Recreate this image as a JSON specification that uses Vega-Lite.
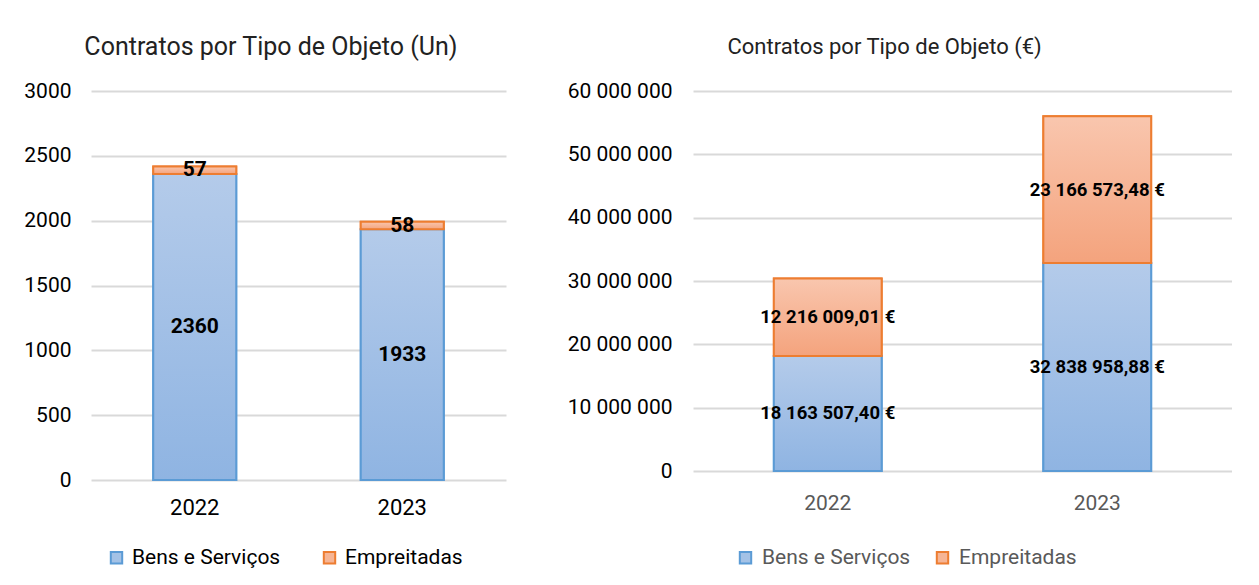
{
  "$schema": "https://vega.github.io/schema/vega-lite/v6.json",
  "padding": {"left": 23, "top": 35, "right": 0, "bottom": 0},
  "background": "white",
  "config": {
    "view": {"stroke": null},
    "font": "Roboto",
    "locale": {"number": {"decimal": ",", "thousands": " ", "grouping": [3], "currency": ["", " €"]}},
    "axis": {"gridColor": "#d9d9d9", "gridWidth": 2, "domain": false, "ticks": false, "labelFont": "Roboto"},
    "legend": {"labelFont": "Roboto"},
    "title": {"font": "Roboto", "fontWeight": "normal", "color": "#222222"}
  },
  "spacing": 61,
  "hconcat": [
    {
      "width": 415,
      "height": 389,
      "title": {"text": "Contratos por Tipo de Objeto (Un)", "frame": "bounds", "anchor": "middle", "dx": 6, "fontSize": 25, "offset": 20},
      "data": {"values": [
        {"year": "2022", "series": "Bens e Serviços", "order": 1, "value": 2360},
        {"year": "2022", "series": "Empreitadas", "order": 2, "value": 57},
        {"year": "2023", "series": "Bens e Serviços", "order": 1, "value": 1933},
        {"year": "2023", "series": "Empreitadas", "order": 2, "value": 58}
      ]},
      "transform": [
        {"stack": "value", "groupby": ["year"], "sort": [{"field": "order", "order": "ascending"}], "as": ["v0", "v1"]},
        {"calculate": "(datum.v0+datum.v1)/2", "as": "mid"}
      ],
      "encoding": {
        "x": {"field": "year", "type": "nominal", "scale": {"paddingInner": 0.6, "paddingOuter": 0.3},
              "axis": {"title": null, "labelAngle": 0, "labelFontSize": 22, "labelColor": "#000000", "labelPadding": 17, "grid": false}}
      },
      "layer": [
        {
          "mark": {"type": "bar", "strokeWidth": 2},
          "encoding": {
            "y": {"field": "v0", "type": "quantitative", "scale": {"domain": [0, 3000]},
                  "axis": {"title": null, "values": [0, 500, 1000, 1500, 2000, 2500, 3000], "format": "d", "labelFontSize": 21, "labelColor": "#000000", "labelPadding": 20, "minExtent": 64, "maxExtent": 64}},
            "y2": {"field": "v1"},
            "fill": {"field": "series", "type": "nominal", "scale": {"domain": ["Bens e Serviços", "Empreitadas"], "range": ["#a4c2e6", "#f6b595"]},
                     "legend": {"title": null, "orient": "none", "legendX": 15, "legendY": 456, "direction": "horizontal", "symbolType": "square", "symbolSize": 130, "symbolStrokeWidth": 2, "labelFontSize": 21, "labelColor": "#000000", "columnPadding": 38, "labelOffset": 5}},
            "stroke": {"field": "series", "type": "nominal", "scale": {"domain": ["Bens e Serviços", "Empreitadas"], "range": ["#5b9bd5", "#ed7d31"]},
                     "legend": {"title": null, "orient": "none", "legendX": 15, "legendY": 456, "direction": "horizontal", "symbolType": "square", "symbolSize": 130, "symbolStrokeWidth": 2, "labelFontSize": 21, "labelColor": "#000000", "columnPadding": 38, "labelOffset": 5}}
          }
        },
        {
          "transform": [{"filter": "datum.series === 'Bens e Serviços'"}],
          "mark": {"type": "bar", "stroke": "#5b9bd5", "strokeWidth": 2,
                   "fill": {"gradient": "linear", "x1": 0, "y1": 0, "x2": 0, "y2": 1, "stops": [{"offset": 0, "color": "#b4cbea"}, {"offset": 1, "color": "#8fb4e2"}]}},
          "encoding": {"y": {"field": "v0", "type": "quantitative"}, "y2": {"field": "v1"}}
        },
        {
          "transform": [{"filter": "datum.series === 'Empreitadas'"}],
          "mark": {"type": "bar", "stroke": "#ed7d31", "strokeWidth": 2,
                   "fill": {"gradient": "linear", "x1": 0, "y1": 0, "x2": 0, "y2": 1, "stops": [{"offset": 0, "color": "#f9c6ae"}, {"offset": 1, "color": "#f4a37d"}]}},
          "encoding": {"y": {"field": "v0", "type": "quantitative"}, "y2": {"field": "v1"}}
        },
        {
          "mark": {"type": "text", "fontWeight": "bold", "fontSize": 21, "color": "#000000", "font": "Roboto"},
          "encoding": {"y": {"field": "mid", "type": "quantitative"}, "text": {"field": "value", "type": "quantitative", "format": "d"}}
        }
      ]
    },
    {
      "width": 539,
      "height": 380,
      "title": {"text": "Contratos por Tipo de Objeto (€)", "frame": "bounds", "anchor": "middle", "dx": -15, "fontSize": 22, "offset": 21},
      "data": {"values": [
        {"year": "2022", "series": "Bens e Serviços", "order": 1, "value": 18163507.40},
        {"year": "2022", "series": "Empreitadas", "order": 2, "value": 12216009.01},
        {"year": "2023", "series": "Bens e Serviços", "order": 1, "value": 32838958.88},
        {"year": "2023", "series": "Empreitadas", "order": 2, "value": 23166573.48}
      ]},
      "transform": [
        {"stack": "value", "groupby": ["year"], "sort": [{"field": "order", "order": "ascending"}], "as": ["v0", "v1"]},
        {"calculate": "(datum.v0+datum.v1)/2", "as": "mid"}
      ],
      "encoding": {
        "x": {"field": "year", "type": "nominal", "scale": {"paddingInner": 0.6, "paddingOuter": 0.3},
              "axis": {"title": null, "labelAngle": 0, "labelFontSize": 21, "labelColor": "#595959", "labelPadding": 21, "grid": false}}
      },
      "layer": [
        {
          "mark": {"type": "bar", "strokeWidth": 2},
          "encoding": {
            "y": {"field": "v0", "type": "quantitative", "scale": {"domain": [0, 60000000]},
                  "axis": {"title": null, "values": [0, 10000000, 20000000, 30000000, 40000000, 50000000, 60000000], "format": ",d", "labelFontSize": 21, "labelColor": "#000000", "labelPadding": 21, "minExtent": 125, "maxExtent": 125}},
            "y2": {"field": "v1"},
            "fill": {"field": "series", "type": "nominal", "scale": {"domain": ["Bens e Serviços", "Empreitadas"], "range": ["#a4c2e6", "#f6b595"]},
                     "legend": {"title": null, "orient": "none", "legendX": 42, "legendY": 456, "direction": "horizontal", "symbolType": "square", "symbolSize": 130, "symbolStrokeWidth": 2, "labelFontSize": 21, "labelColor": "#595959", "columnPadding": 21, "labelOffset": 6}},
            "stroke": {"field": "series", "type": "nominal", "scale": {"domain": ["Bens e Serviços", "Empreitadas"], "range": ["#5b9bd5", "#ed7d31"]},
                     "legend": {"title": null, "orient": "none", "legendX": 42, "legendY": 456, "direction": "horizontal", "symbolType": "square", "symbolSize": 130, "symbolStrokeWidth": 2, "labelFontSize": 21, "labelColor": "#595959", "columnPadding": 21, "labelOffset": 6}}
          }
        },
        {
          "transform": [{"filter": "datum.series === 'Bens e Serviços'"}],
          "mark": {"type": "bar", "stroke": "#5b9bd5", "strokeWidth": 2,
                   "fill": {"gradient": "linear", "x1": 0, "y1": 0, "x2": 0, "y2": 1, "stops": [{"offset": 0, "color": "#b4cbea"}, {"offset": 1, "color": "#8fb4e2"}]}},
          "encoding": {"y": {"field": "v0", "type": "quantitative"}, "y2": {"field": "v1"}}
        },
        {
          "transform": [{"filter": "datum.series === 'Empreitadas'"}],
          "mark": {"type": "bar", "stroke": "#ed7d31", "strokeWidth": 2,
                   "fill": {"gradient": "linear", "x1": 0, "y1": 0, "x2": 0, "y2": 1, "stops": [{"offset": 0, "color": "#f9c6ae"}, {"offset": 1, "color": "#f4a37d"}]}},
          "encoding": {"y": {"field": "v0", "type": "quantitative"}, "y2": {"field": "v1"}}
        },
        {
          "mark": {"type": "text", "fontWeight": "bold", "fontSize": 18.5, "color": "#000000", "font": "Roboto"},
          "encoding": {"y": {"field": "mid", "type": "quantitative"}, "text": {"field": "value", "type": "quantitative", "format": "$,.2f"}}
        }
      ]
    }
  ],
  "resolve": {
    "scale": {"fill": "independent", "stroke": "independent", "x": "independent", "y": "independent"},
    "legend": {"fill": "independent", "stroke": "independent"}
  }
}
